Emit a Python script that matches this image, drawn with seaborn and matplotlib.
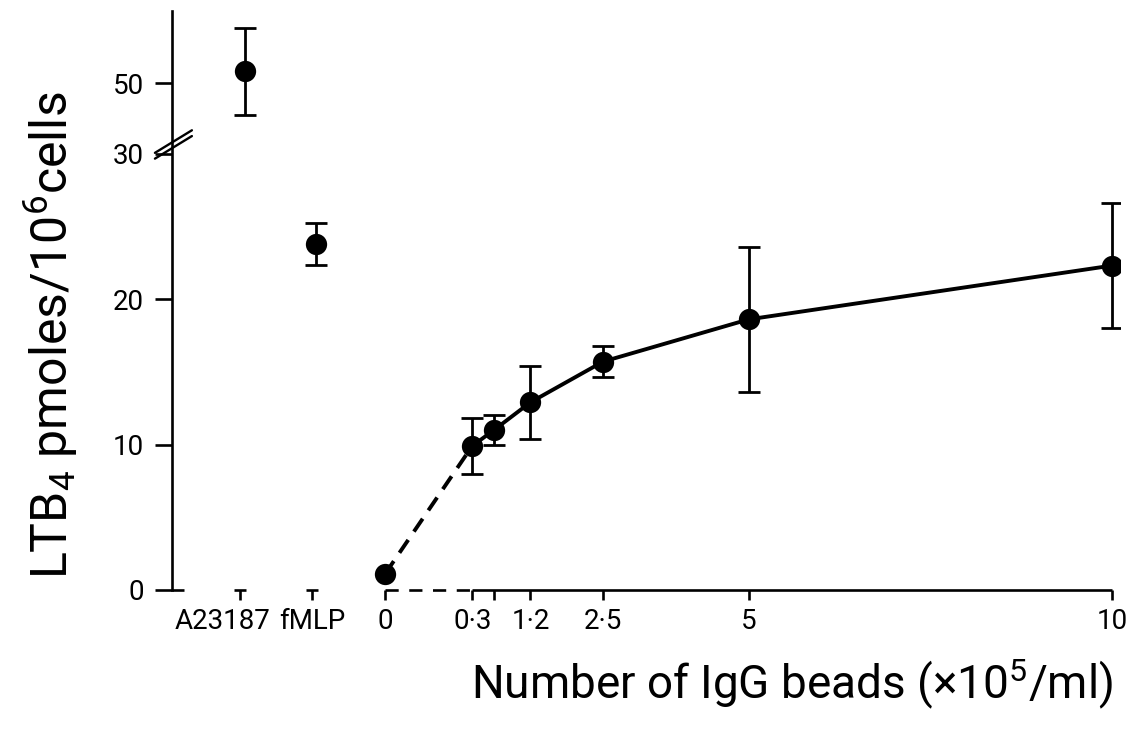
import matplotlib
matplotlib.use("Agg")
import matplotlib.pyplot as plt
from matplotlib.transforms import ScaledTranslation
import seaborn as sns
import pandas as pd

# LTB4 release by neutrophils: soluble stimuli and IgG-coated beads
controls = ["A23187", "fMLP"]
control_ltb4 = [50.8, 23.8]
control_err = [3.0, 1.45]

bead_counts = [0, 0.3, 0.6, 1.2, 2.5, 5, 10]          # x 10^5 / ml
bead_ltb4 = [1.1, 9.9, 11.0, 12.9, 15.7, 18.6, 22.3]  # pmoles / 10^6 cells
bead_err = [0.0, 1.95, 1.0, 2.5, 1.07, 5.0, 4.3]

x_tick_labels = ["A23187", "fMLP", "0", "0·3", "", "1·2", "2·5", "5", "10"]
y_tick_values = [0, 10, 20, 30, 50]

# where each group sits along the (non-linear) horizontal axis
control_tick_pos = [-2.0, -1.0]
control_pos = [-1.92, -0.95]
bead_pos = [0.0, 1.2, 1.5, 2.0, 3.0, 5.0, 10.0]

# broken y axis: values above the break are shifted down
BREAK_LOW, BREAK_HIGH, BREAK_GAP = 30.0, 50.0, 4.85


def to_axis(v):
    return v if v <= BREAK_LOW else v - (BREAK_HIGH - BREAK_LOW) + BREAK_GAP


sns.set_theme(style="white")
plt.rcParams["font.family"] = ["Roboto", "DejaVu Sans"]
plt.rcParams["mathtext.default"] = "regular"

fig = plt.figure(figsize=(11.32, 7.34), dpi=100)
ax = fig.add_axes([172 / 1132, 1 - 590 / 734, (1120 - 172) / 1132, (590 - 11) / 734])

ink = "black"
lw = 2.8

ctrl_df = pd.DataFrame({"pos": control_pos,
                        "ltb4": [to_axis(v) for v in control_ltb4],
                        "err": control_err})
bead_df = pd.DataFrame({"pos": bead_pos, "ltb4": bead_ltb4, "err": bead_err})

# dose-response: dashed from 0 to the first dose, solid afterwards
sns.lineplot(data=bead_df.iloc[:2], x="pos", y="ltb4", ax=ax, color=ink,
             lw=lw, linestyle=(0, (4, 2.6)), sort=False)
sns.lineplot(data=bead_df.iloc[1:], x="pos", y="ltb4", ax=ax, color=ink,
             lw=lw, sort=False)

# error bars (SEM)
eb = bead_df[bead_df["err"] > 0]
for df in (ctrl_df, eb):
    ax.errorbar(df["pos"], df["ltb4"], yerr=df["err"], fmt="none",
                ecolor=ink, elinewidth=2.0, capsize=8, capthick=2.0, zorder=3)

# points
for df in (ctrl_df, bead_df):
    sns.scatterplot(data=df, x="pos", y="ltb4", ax=ax, color=ink, s=235,
                    edgecolor=ink, linewidth=0, zorder=4)

ax.set_xlim(-2.93, 10.11)
ax.set_ylim(0, 39.8)

# spines: only the left one, bottom axis drawn by hand
for side in ("top", "right", "bottom"):
    ax.spines[side].set_visible(False)
ax.spines["left"].set_color(ink)
ax.spines["left"].set_linewidth(1.9)

# short foot at the bottom of the y axis
ax.plot([-2.93, -2.77], [0, 0], color=ink, lw=1.9, clip_on=False,
        solid_capstyle="butt")
# x axis: dashed between 0 and the first dose, solid afterwards
ax.plot([0, 1.2], [0, 0], color=ink, lw=1.9, linestyle=(0, (5, 4)),
        clip_on=False)
ax.plot([1.2, 10.0], [0, 0], color=ink, lw=1.9, clip_on=False,
        solid_capstyle="butt")
# T-shaped tick heads for the soluble stimuli
ax.plot(control_tick_pos, [0, 0], linestyle="none", marker="_", markersize=9,
        markeredgewidth=1.9, color=ink, clip_on=False)

ax.set_xticks(control_tick_pos + bead_pos)
ax.set_xticklabels(x_tick_labels)
ax.set_yticks([to_axis(v) for v in y_tick_values])
ax.set_yticklabels([str(v) for v in y_tick_values])

ax.tick_params(axis="x", direction="out", length=7, width=1.9, color=ink,
               labelsize=20, pad=6, labelcolor=ink, bottom=True)
ax.tick_params(axis="y", direction="out", length=12, width=1.9, color=ink,
               labelsize=20, pad=8, labelcolor=ink, left=True)

# nudge the first control label left so the two stimuli labels stay apart
first = ax.get_xticklabels()[0]
first.set_transform(first.get_transform()
                    + ScaledTranslation(-0.17, 0, fig.dpi_scale_trans))

# break marks on the y axis
for dy in (0.0, -0.010):
    ax.plot([-0.018, 0.021], [0.755 + dy, 0.794 + dy], transform=ax.transAxes,
            color=ink, lw=1.7, clip_on=False)

ax.set_ylabel("LTB$_4$ pmoles/10$^6$cells", fontsize=36, color=ink)
ax.yaxis.set_label_coords(-0.097, 0.44)
ax.set_xlabel("Number of IgG beads (×10$^5$/ml)", fontsize=33, color=ink)
ax.xaxis.label.set_verticalalignment("baseline")
ax.xaxis.set_label_coords(0.654, -(698 - 590) / 579)

fig.savefig("out.png", dpi=100, facecolor="white")
